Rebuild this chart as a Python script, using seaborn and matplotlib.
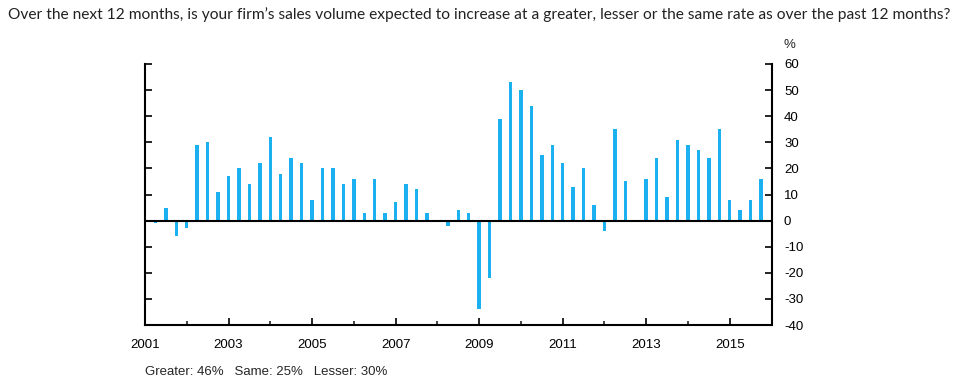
import matplotlib
matplotlib.use("Agg")
import matplotlib.pyplot as plt
import seaborn as sns
import pandas as pd
from matplotlib.ticker import FixedLocator

# ---------------------------------------------------------
# Data: balance of opinion, quarterly, 2001Q2 - 2015Q4
# ---------------------------------------------------------

years = [2001] * 3 + [y for y in range(2002, 2016) for _ in range(4)]
quarters = [2, 3, 4] + [1, 2, 3, 4] * 14

balance = [
    -1, 5, -6,
    -3, 29, 30, 11,
    17, 20, 14, 22,
    32, 18, 24, 22,
    8, 20, 20, 14,
    16, 3, 16, 3,
    7, 14, 12, 3,
    0, -2, 4, 3,
    -34, -22, 39, 53,
    50, 44, 25, 29,
    22, 13, 20, 6,
    -4, 35, 15, 0,
    16, 24, 9, 31,
    29, 27, 24, 35,
    8, 4, 8, 16,
]

tick_years = list(range(2001, 2016, 2))
minor_years = list(range(2002, 2016, 2))
y_ticks = list(range(-40, 61, 10))

title = ("Over the next 12 months, is your firm\u2019s sales volume expected to increase "
         "at a greater, lesser or the same rate as over the past 12 months?")
note = "Greater: 46%   Same: 25%   Lesser: 30%"

BAR_COLOR = "#1BB0F0"

# ---------------------------------------------------------
# Plot
# ---------------------------------------------------------

sns.set_style("ticks")
plt.rcParams["font.family"] = ["Liberation Sans", "DejaVu Sans"]
plt.rcParams["axes.unicode_minus"] = False

df = pd.DataFrame({"year": years, "quarter": quarters, "balance": balance})
df["x"] = df["year"] + (df["quarter"] - 1) / 4

fig = plt.figure(figsize=(9.6, 3.88), dpi=100)
ax = fig.add_axes([145 / 960, 63 / 388, 626.5 / 960, 261 / 388])

sns.barplot(
    data=df, x="x", y="balance", native_scale=True, width=0.33,
    color=BAR_COLOR, saturation=1, errorbar=None, linewidth=0, ax=ax,
)

ax.axhline(0, color="black", lw=1.5, zorder=3)

ax.set_xlim(2001, 2016)
ax.set_ylim(-40, 60)
ax.set_xlabel("")
ax.set_ylabel("")

for side in ["left", "right", "bottom"]:
    ax.spines[side].set_visible(True)
    ax.spines[side].set_color("black")
    ax.spines[side].set_linewidth(1.5)
ax.spines["top"].set_visible(False)

ax.xaxis.set_major_locator(FixedLocator(tick_years))
ax.xaxis.set_minor_locator(FixedLocator(minor_years))
ax.set_xticklabels([str(y) for y in tick_years])
ax.tick_params(axis="x", which="major", direction="in", length=5, width=1.2,
               pad=10, labelsize=9.5, colors="black")
ax.tick_params(axis="x", which="minor", direction="in", length=3, width=1.2)

ax.set_yticks(y_ticks)
ax.tick_params(axis="y", which="major", direction="in", length=5, width=1.2,
               left=True, right=True, labelleft=False, labelright=True,
               pad=9, labelsize=9.5, colors="black")

fig.text(8 / 960, 1 - 15 / 388, title, fontsize=11.2, va="center",
         family=["Lato", "DejaVu Sans"], color="#222222")
fig.text(784 / 960, 1 - 45 / 388, "%", fontsize=9.5, va="center")
fig.text(145 / 960, 1 - 372 / 388, note, fontsize=9.5, va="center")

fig.savefig("out.png", dpi=100)
plt.close(fig)
